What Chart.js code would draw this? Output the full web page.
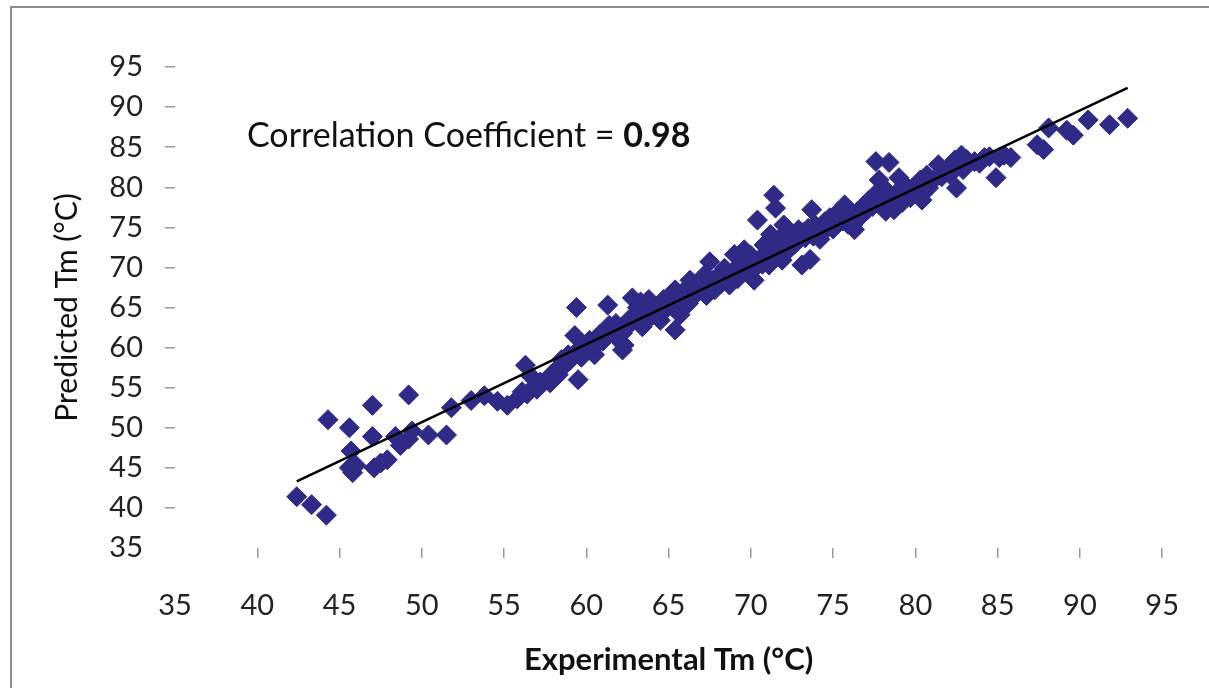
<!DOCTYPE html>
<html>
<head>
<meta charset="utf-8">
<script src="https://cdn.jsdelivr.net/npm/chart.js@4.4.0/dist/chart.umd.min.js"></script>
<style>
  html, body { margin: 0; padding: 0; background: #fff; }
  canvas { display: block; }
</style>
</head>
<body>
<canvas id="mainChart" width="1209" height="688"></canvas>
<script>
// experimental vs predicted Tm
const experimental = [
  42.4, 43.3, 44.2, 44.3, 45.6, 45.7, 45.6, 45.8, 46.0, 47.0, 47.0, 47.1, 47.5, 47.9, 48.4, 48.7, 49.2, 49.4, 49.2, 50.4,
  51.5, 51.8, 53.0, 53.8, 54.6, 55.2, 56.1, 56.3, 56.6, 56.9, 57.2, 57.6, 57.9, 58.2, 58.5, 58.9, 59.3, 59.4, 59.5, 59.5,
  59.9, 60.2, 60.5, 60.8, 61.3, 61.4, 61.7, 62.0, 62.3, 62.6, 62.8, 63.1, 63.3, 63.5, 63.8, 64.1, 64.4, 64.7, 65.1, 65.4,
  65.4, 65.7, 66.0, 66.3, 66.6, 66.9, 67.2, 67.5, 67.7, 68.1, 68.4, 68.7, 69.0, 69.3, 69.6, 69.9, 70.2, 70.4, 70.6, 70.8,
  71.1, 71.2, 71.4, 71.5, 71.7, 72.0, 72.3, 72.6, 72.9, 73.1, 73.3, 73.6, 73.7, 73.9, 74.2, 74.5, 74.8, 75.1, 75.4, 75.7,
  76.0, 76.3, 76.6, 76.9, 77.2, 77.5, 77.6, 77.8, 78.1, 78.4, 78.6, 79.0, 79.3, 79.7, 80.1, 80.4, 80.7, 81.1, 81.4, 81.9,
  82.4, 82.5, 82.8, 82.9, 83.6, 84.2, 84.5, 84.9, 85.1, 85.4, 85.8, 87.4, 87.8, 88.1, 89.2, 89.6, 90.5, 91.8, 92.9,
  55.8, 56.4, 57.0, 57.8, 58.3, 58.7, 59.0, 59.7, 60.0, 60.6, 61.0, 61.2, 61.8, 62.2, 62.5, 62.9, 63.4, 63.7, 64.0, 64.5,
  64.9, 65.2, 65.8, 66.2, 66.5, 67.0, 67.3, 67.8, 68.2, 68.5, 68.9, 69.2, 69.5, 69.8, 70.0, 70.3, 70.7, 71.0, 71.3, 71.6,
  71.9, 72.2, 72.5, 72.8, 73.2, 73.5, 73.8, 74.1, 74.4, 74.7, 75.0, 75.3, 75.6, 75.9, 76.2, 76.5, 76.8, 77.1, 77.4, 77.9,
  78.3, 78.8, 79.2, 79.5, 79.9, 80.3, 80.8, 81.6, 82.1, 83.1, 83.9, 62.2, 78.7, 78.2
];
const predicted = [
  41.4, 40.4, 39.1, 51.0, 50.0, 47.1, 45.0, 44.4, 45.3, 52.8, 48.9, 45.0, 45.6, 46.0, 48.9, 47.8, 54.1, 49.6, 48.6, 49.1,
  49.1, 52.5, 53.4, 54.0, 53.3, 52.8, 54.5, 57.8, 56.5, 55.3, 55.7, 56.0, 56.7, 57.3, 58.5, 59.1, 61.5, 65.0, 59.7, 56.0,
  60.3, 60.9, 59.1, 61.6, 65.3, 62.8, 62.2, 60.9, 60.3, 63.5, 66.2, 65.0, 65.7, 64.7, 66.0, 64.1, 65.0, 66.0, 66.6, 67.2,
  62.2, 64.1, 67.2, 68.4, 66.9, 67.2, 69.1, 70.7, 68.4, 69.1, 69.9, 67.8, 71.6, 70.3, 72.2, 69.7, 68.4, 75.9, 71.2, 72.8,
  70.3, 74.1, 79.0, 77.4, 73.5, 75.3, 72.2, 72.8, 74.7, 70.3, 73.7, 71.0, 77.2, 75.3, 73.5, 75.7, 76.2, 76.5, 76.9, 77.8,
  76.5, 74.7, 76.2, 77.8, 78.4, 79.0, 83.2, 80.9, 79.9, 83.1, 78.4, 81.2, 79.7, 78.7, 80.3, 78.4, 81.5, 80.9, 82.8, 82.2,
  83.4, 79.9, 84.0, 82.2, 83.2, 83.7, 83.8, 81.2, 83.7, 84.0, 83.7, 85.3, 84.7, 87.4, 87.1, 86.5, 88.4, 87.8, 88.6,
  53.6, 54.2, 54.8, 55.6, 56.6, 57.8, 58.4, 58.8, 59.8, 60.4, 60.8, 61.9, 63.0, 61.8, 62.6, 63.7, 62.6, 63.4, 64.8, 63.4,
  64.9, 65.5, 66.0, 65.5, 66.3, 67.9, 66.5, 67.2, 68.0, 68.6, 68.9, 68.6, 70.0, 70.7, 71.5, 70.0, 70.4, 71.6, 71.0, 72.1,
  70.9, 73.5, 73.8, 73.2, 74.4, 74.9, 73.9, 74.3, 74.8, 75.0, 74.8, 75.6, 75.8, 75.4, 75.3, 77.0, 76.8, 77.2, 77.6, 78.2,
  77.8, 79.2, 78.1, 80.0, 79.5, 80.9, 79.9, 81.3, 81.6, 83.5, 83.0, 59.7, 77.2, 77.0
];
// fitted line end points
const trendX = [42.4, 92.9];
const trendY = [43.3, 92.4];
const xTicks = [35, 40, 45, 50, 55, 60, 65, 70, 75, 80, 85, 90, 95];
const yTicks = [35, 40, 45, 50, 55, 60, 65, 70, 75, 80, 85, 90, 95];
const noteText = 'Correlation Coefficient = ';
const noteValue = '0.98';

const FONT = 'Lato, "Open Sans", sans-serif';
const tickColor = c => (c.tick && c.tick.value === 35) ? 'rgba(0,0,0,0)' : '#9a9a9a';

const framePlugin = {
  id: 'frame',
  beforeDraw(chart) {
    const ctx = chart.ctx;
    ctx.save();
    ctx.fillStyle = '#fff';
    ctx.fillRect(0, 0, chart.width, chart.height);
    ctx.strokeStyle = '#8f8f8f';
    ctx.lineWidth = 2;
    ctx.beginPath();
    ctx.moveTo(11, chart.height);
    ctx.lineTo(11, 7);
    ctx.lineTo(chart.width, 7);
    ctx.stroke();
    ctx.restore();
  },
  afterDraw(chart) {
    const ctx = chart.ctx;
    ctx.save();
    ctx.fillStyle = '#111';
    ctx.textBaseline = 'middle';
    ctx.font = '34px ' + FONT;
    ctx.fillText(noteText, 247, 136);
    const w = ctx.measureText(noteText).width;
    ctx.font = 'bold 34px ' + FONT;
    ctx.fillText(noteValue, 247 + w, 136);
    ctx.restore();
  }
};

const ctx = document.getElementById('mainChart').getContext('2d');
const chart = new Chart(ctx, {
  type: 'scatter',
  data: {
    datasets: [
      {
        type: 'line',
        label: 'fit',
        data: trendX.map((x, i) => ({ x: x, y: trendY[i] })),
        borderColor: '#000',
        borderWidth: 2.5,
        pointRadius: 0,
        fill: false,
        order: 0
      },
      {
        label: 'Tm',
        data: experimental.map((x, i) => ({ x: x, y: predicted[i] })),
        backgroundColor: '#2e2a85',
        borderColor: '#2e2a85',
        pointStyle: 'rectRot',
        pointRadius: 10,
        order: 1
      }
    ]
  },
  options: {
    responsive: false,
    animation: false,
    layout: { padding: { top: 67, right: 46, bottom: 0, left: 0 } },
    plugins: {
      legend: { display: false },
      tooltip: { enabled: false }
    },
    scales: {
      x: {
        type: 'linear',
        min: 35,
        max: 95,
        afterBuildTicks: s => { s.ticks = xTicks.map(v => ({ value: v })); },
        afterFit: s => { s.height = 140; },
        border: { display: false },
        grid: { drawOnChartArea: false, tickLength: 10, color: tickColor, lineWidth: 1.5 },
        ticks: { font: { family: FONT, size: 29 }, color: '#222', padding: 30, maxRotation: 0 },
        title: {
          display: true,
          text: 'Experimental Tm (°C)',
          font: { family: FONT, size: 31, weight: 'bold' },
          color: '#111',
          padding: { top: 0, bottom: 9 }
        }
      },
      y: {
        type: 'linear',
        min: 35,
        max: 95,
        afterBuildTicks: s => { s.ticks = yTicks.map(v => ({ value: v })); },
        afterFit: s => { s.width = 175; },
        border: { display: false },
        grid: { drawOnChartArea: false, tickLength: 10, color: tickColor, lineWidth: 1.5 },
        ticks: { font: { family: FONT, size: 29 }, color: '#222', padding: 22 },
        title: {
          display: true,
          text: 'Predicted Tm (°C)',
          font: { family: FONT, size: 30 },
          color: '#111',
          padding: { top: 49, bottom: 0 }
        }
      }
    }
  },
  plugins: [framePlugin]
});
</script>
</body>
</html>
